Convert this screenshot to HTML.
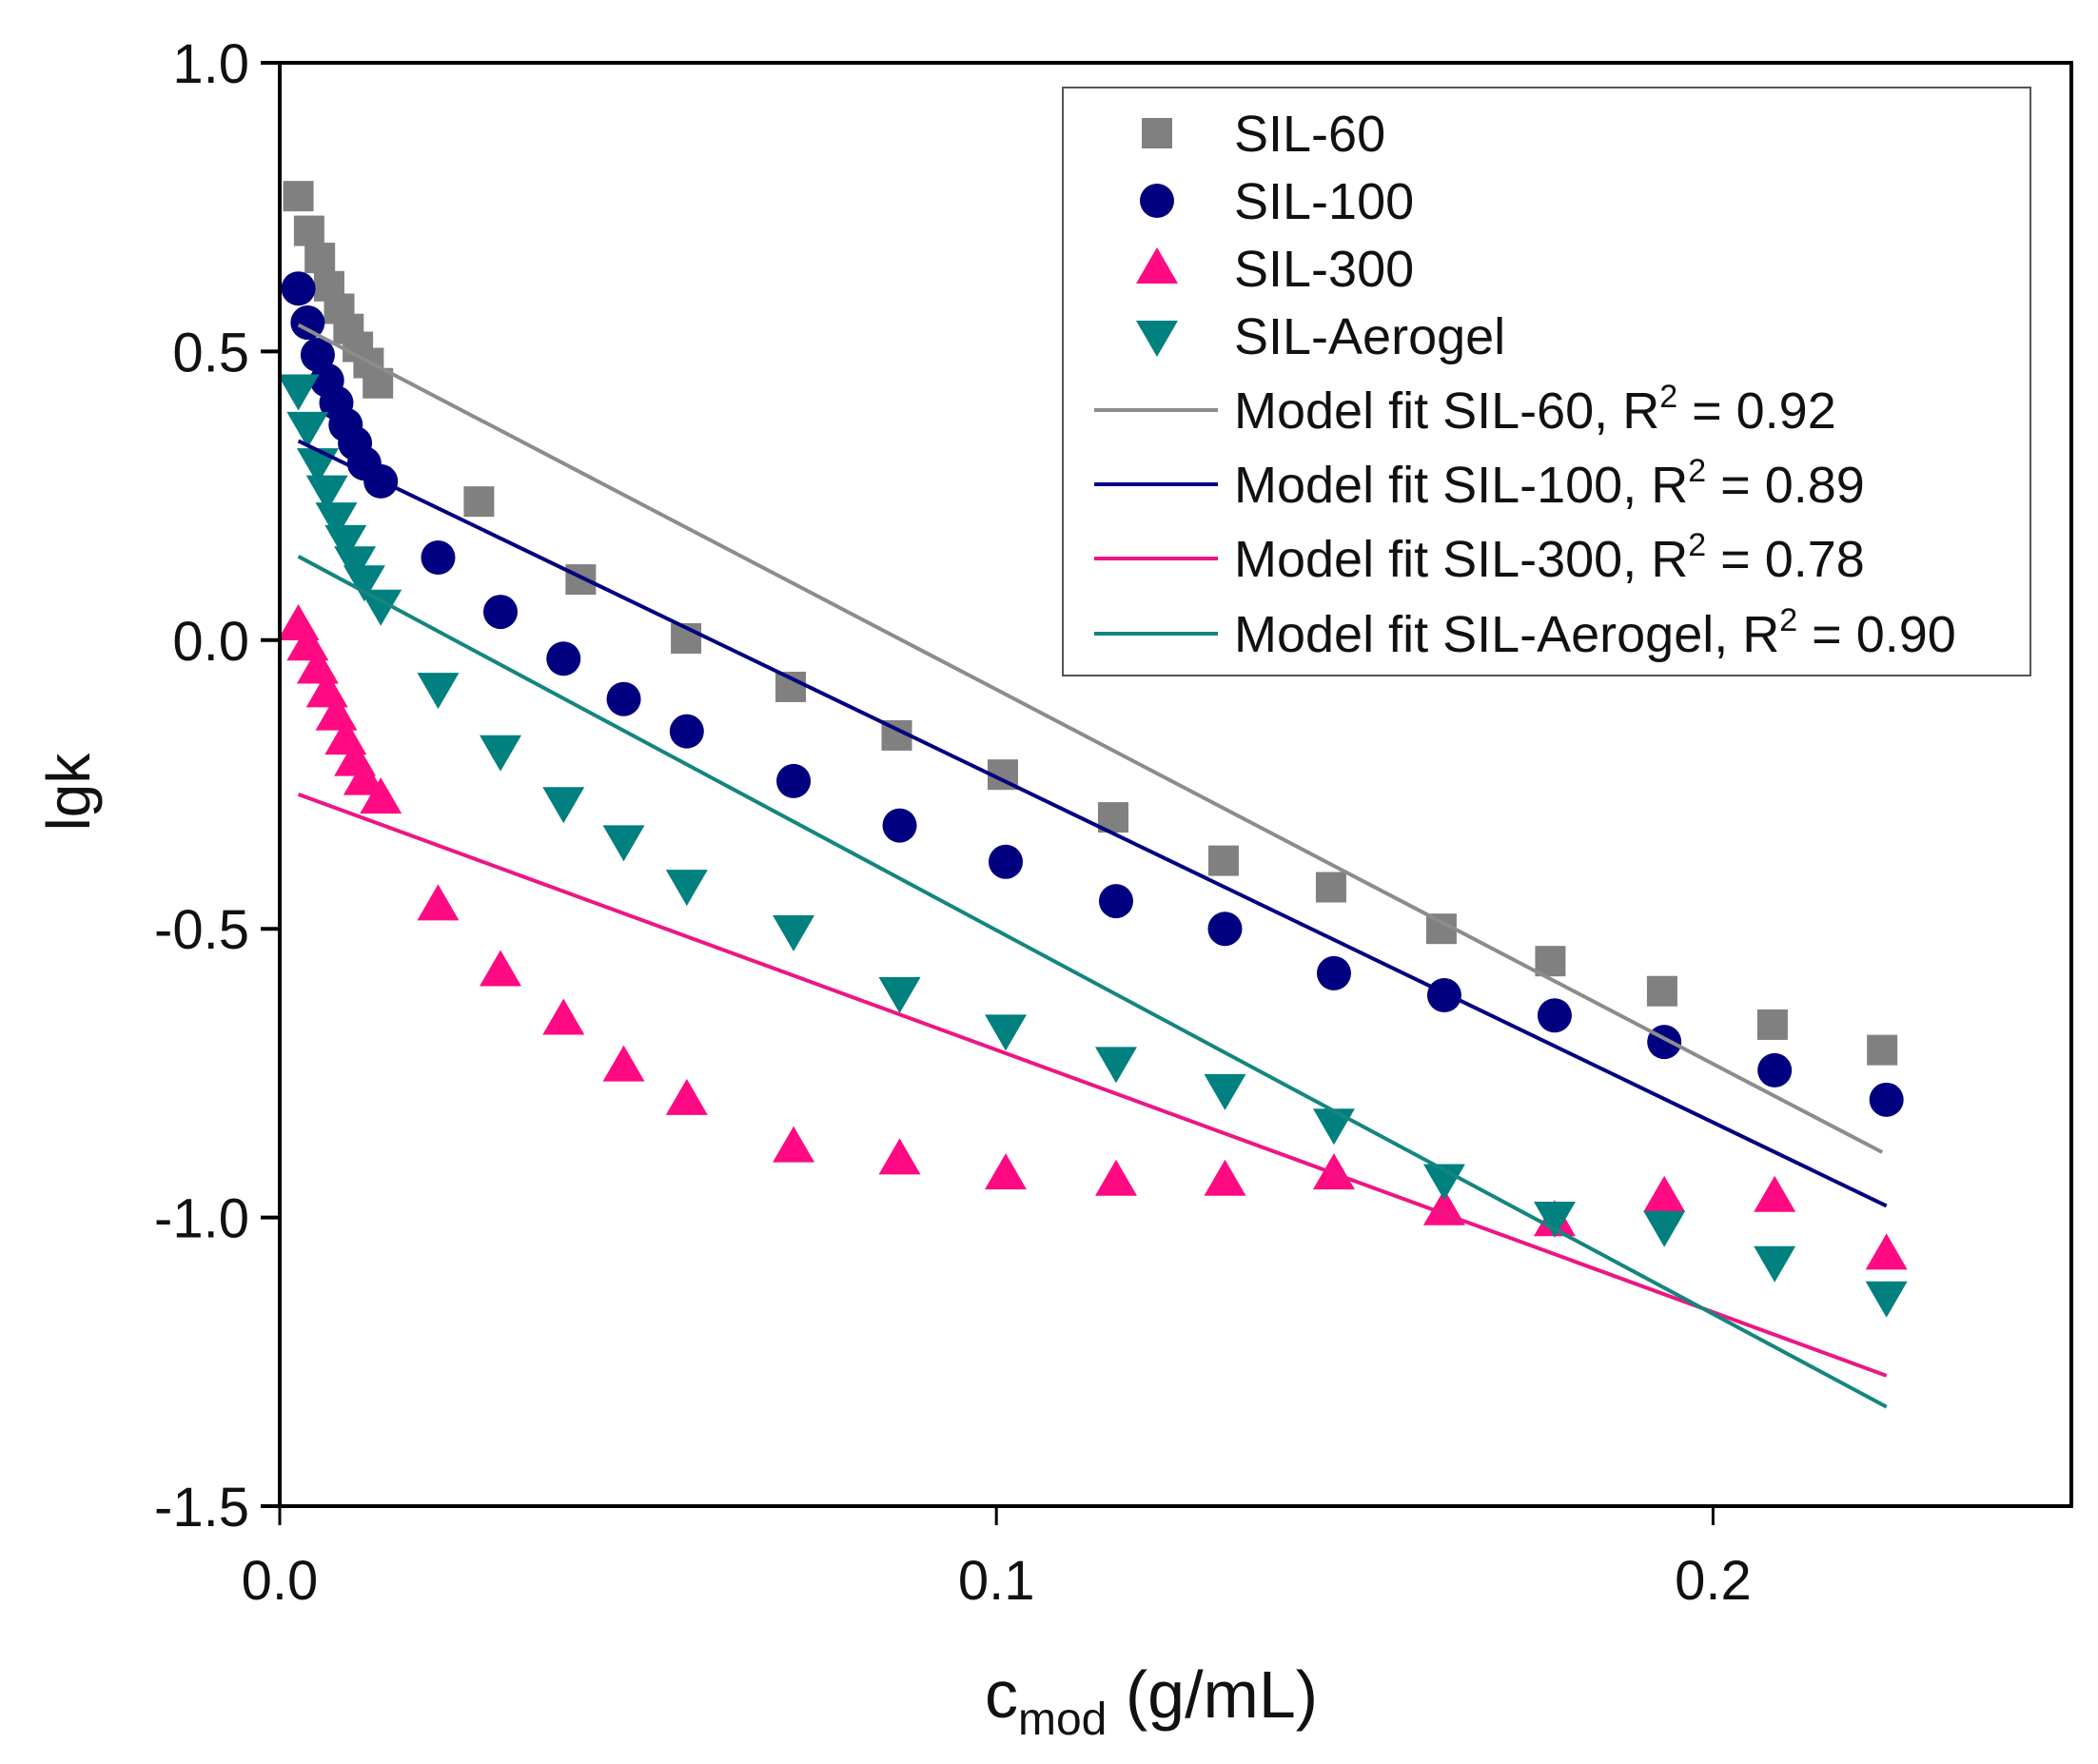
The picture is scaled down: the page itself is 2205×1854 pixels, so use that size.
<!DOCTYPE html>
<html><head><meta charset="utf-8"><style>
html,body{margin:0;padding:0;background:#fff;}
svg{display:block;font-family:"Liberation Sans",Arial,sans-serif;}
</style></head><body>
<svg id="chart" width="2205" height="1854" viewBox="0 0 2205 1854" xmlns="http://www.w3.org/2000/svg">
<g id="fits"></g>
<g id="marks"></g>
<g id="axes"></g>
<g id="legend"></g>
</svg>
<script>
// ---- data ----
const xTicks = [0.0, 0.1, 0.2];
const xTickLabels = ["0.0", "0.1", "0.2"];
const yTicks = [1.0, 0.5, 0.0, -0.5, -1.0, -1.5];
const yTickLabels = ["1.0", "0.5", "0.0", "-0.5", "-1.0", "-1.5"];
const seriesNames = ["SIL-60", "SIL-100", "SIL-300", "SIL-Aerogel"];

const x60 = [0.0026,0.0041,0.0056,0.0069,0.0083,0.0096,0.0109,0.0124,0.0137,0.0278,0.0420,0.0567,0.0713,0.0861,0.1009,0.1163,0.1317,0.1467,0.1621,0.1773,0.1929,0.2083,0.2236];
const y60 = [0.769,0.709,0.662,0.613,0.574,0.539,0.508,0.480,0.445,0.240,0.105,0.003,-0.081,-0.165,-0.233,-0.307,-0.382,-0.428,-0.500,-0.556,-0.608,-0.666,-0.710];

const xCommon = [0.0026,0.0039,0.0053,0.0066,0.0079,0.0092,0.0105,0.0118,0.0141,0.0221,0.0308,0.0396,0.0480,0.0568,0.0717,0.0865,0.1013,0.1167,0.1319,0.1471,0.1625,0.1779,0.1932,0.2086,0.2242];
const y100 = [0.609,0.550,0.494,0.450,0.411,0.373,0.341,0.306,0.275,0.143,0.049,-0.032,-0.102,-0.158,-0.244,-0.321,-0.384,-0.452,-0.500,-0.577,-0.615,-0.650,-0.696,-0.745,-0.796];
const y300 = [0.026,-0.009,-0.049,-0.090,-0.130,-0.172,-0.209,-0.242,-0.274,-0.459,-0.573,-0.657,-0.738,-0.796,-0.878,-0.899,-0.925,-0.936,-0.936,-0.925,-0.987,-1.006,-0.964,-0.964,-1.064];
const yAero = [0.434,0.369,0.306,0.259,0.212,0.173,0.136,0.103,0.061,-0.083,-0.191,-0.281,-0.347,-0.424,-0.503,-0.610,-0.675,-0.731,-0.778,-0.838,-0.934,-0.999,-1.015,-1.076,-1.137];

const fitStartX = [0.0026, 0.0026, 0.0026, 0.0026];
const fitEndX = [0.2236, 0.2242, 0.2242, 0.2242];
const fitStartY = [0.546, 0.345, -0.267, 0.145];
const fitEndY = [-0.887, -0.980, -1.274, -1.328];
const fitLabels = ["Model fit SIL-60, R", "Model fit SIL-100, R", "Model fit SIL-300, R", "Model fit SIL-Aerogel, R"];
const fitR2 = ["0.92", "0.89", "0.78", "0.90"];

// ---- layout ----
const L=294, R=2177, T=66, B=1583;
const colors=["#808080","#000080","#ff0a82","#00807f"];
const fitColors=["#8c8c8c","#000080","#ec1684","#14857f"];
function sx(v){ return L + (v - 0) / 0.25 * (R - L); }
function sy(v){ return T + (1.0 - v) / 2.5 * (B - T); }
const NS="http://www.w3.org/2000/svg";
function mk(tag, attrs, parent){ const e=document.createElementNS(NS,tag); for(const k in attrs) e.setAttribute(k,attrs[k]); parent.appendChild(e); return e; }

function marker(type, cx, cy, color, parent){
  let e;
  if(type===0){ e=mk("rect",{x:cx-16,y:cy-16,width:32,height:32,fill:color},parent); }
  else if(type===1){ e=mk("circle",{cx:cx,cy:cy,r:18,fill:color},parent); }
  else if(type===2){ e=mk("polygon",{points:`${cx},${cy-22} ${cx+22},${cy+16} ${cx-22},${cy+16}`,fill:color},parent); }
  else { e=mk("polygon",{points:`${cx},${cy+22} ${cx+22},${cy-16} ${cx-22},${cy-16}`,fill:color},parent); }
  return e;
}

const marks=document.getElementById("marks");
const allX=[x60,xCommon,xCommon,xCommon];
const allY=[y60,y100,y300,yAero];
const mkNames=["sil60-point","sil100-point","sil300-point","sil-aerogel-point"];
for(let s=0;s<4;s++){
  for(let i=0;i<allY[s].length;i++){
    const e=marker(s, sx(allX[s][i]), sy(allY[s][i]), colors[s], marks);
    
    
  }
}
const fits=document.getElementById("fits");
const fitNames=["fit-line-sil60","fit-line-sil100","fit-line-sil300","fit-line-sil-aerogel"];
for(let s=0;s<4;s++){
  const e=mk("line",{x1:sx(fitStartX[s]),y1:sy(fitStartY[s]),x2:sx(fitEndX[s]),y2:sy(fitEndY[s]),stroke:fitColors[s],"stroke-width":4},fits);
  
  
}
document.getElementById("chart").insertBefore(marks, fits);

// ---- axes ----
const ax=document.getElementById("axes");
const frame=mk("rect",{x:L,y:T,width:R-L,height:B-T,fill:"none",stroke:"#000","stroke-width":4},ax);


for(let i=0;i<yTicks.length;i++){
  const y=sy(yTicks[i]);
  const t=mk("line",{x1:L-20,y1:y,x2:L,y2:y,stroke:"#000","stroke-width":4},ax);
  
  
  const tx=mk("text",{x:L-32,y:y+21,"font-size":58,"text-anchor":"end",fill:"#111"},ax);
  tx.textContent=yTickLabels[i];
  
  
}
for(let i=0;i<xTicks.length;i++){
  const x=sx(xTicks[i]);
  const t=mk("line",{x1:x,y1:B,x2:x,y2:B+20,stroke:"#000","stroke-width":3},ax);
  
  
  const tx=mk("text",{x:x,y:B+98,"font-size":58,"text-anchor":"middle",fill:"#111"},ax);
  tx.textContent=xTickLabels[i];
  
  
}
const yt=mk("text",{x:0,y:0,"font-size":64,"text-anchor":"middle",fill:"#111",transform:`translate(94,${(T+B)/2+8}) rotate(-90)`},ax);
yt.textContent="lgk";


const xt=mk("text",{x:1035,y:1805,"font-size":70,fill:"#111"},ax);
xt.innerHTML='c<tspan font-size="48" dy="18">mod</tspan><tspan dy="-18"> (g/mL)</tspan>';



// ---- legend ----
const lg=document.getElementById("legend");
const box=mk("rect",{x:1117,y:92,width:1017,height:618,fill:"#fff",stroke:"#555","stroke-width":2},lg);


const rowY=[140,211,282,353,431,509,587,666];
for(let s=0;s<4;s++){
  const m=marker(s,1216,rowY[s],colors[s],lg);
  
  
  const t=mk("text",{x:1297,y:rowY[s]+19,"font-size":54,fill:"#111"},lg);
  t.textContent=seriesNames[s];
  
  
}
for(let s=0;s<4;s++){
  const y=rowY[s+4];
  const l=mk("line",{x1:1150,y1:y,x2:1280,y2:y,stroke:fitColors[s],"stroke-width":4},lg);
  
  
  const t=mk("text",{x:1297,y:y+19,"font-size":54,fill:"#111"},lg);
  t.innerHTML=fitLabels[s]+'<tspan font-size="34" dy="-22">2</tspan><tspan dy="22"> = '+fitR2[s]+'</tspan>';
  
  
}
</script>
</body></html>
